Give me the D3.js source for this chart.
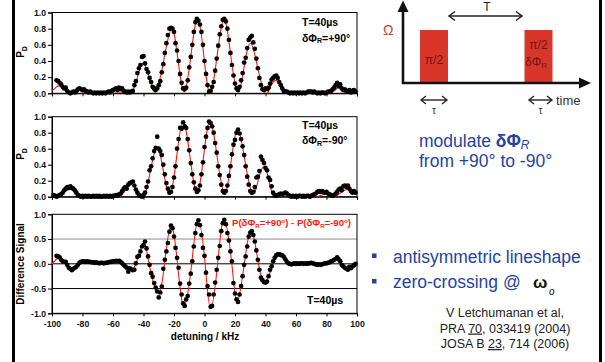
<!DOCTYPE html>
<html><head><meta charset="utf-8">
<script src="https://cdn.jsdelivr.net/npm/d3@7"></script>
<style>
body{margin:0;background:#fff}
svg{display:block}
text{font-family:"Liberation Sans",Arial,Helvetica,sans-serif}
</style>
</head><body>
<svg id="c" width="605" height="362"></svg>
<script>
// ---------- DATA ----------
const detuning = [
-99,-98,-97,-96,-95,-94,-93,-92,-91,-90,-89,-88,-87,-86,-85,-84,-83,-82,-81,-80,
-79,-78,-77,-76,-75,-74,-73,-72,-71,-70,-69,-68,-67,-66,-65,-64,-63,-62,-61,-60,
-59,-58,-57,-56,-55,-54,-53,-52,-51,-50,-49,-48,-47,-46,-45,-44,-43,-42,-41,-40,
-39,-38,-37,-36,-35,-34,-33,-32,-31,-30,-29,-28,-27,-26,-25,-24,-23,-22,-21,-20,
-19,-18,-17,-16,-15,-14,-13,-12,-11,-10,-9,-8,-7,-6,-5,-4,-3,-2,-1,0,
1,2,3,4,5,6,7,8,9,10,11,12,13,14,15,16,17,18,19,20,
21,22,23,24,25,26,27,28,29,30,31,32,33,34,35,36,37,38,39,40,
41,42,43,44,45,46,47,48,49,50,51,52,53,54,55,56,57,58,59,60,
61,62,63,64,65,66,67,68,69,70,71,72,73,74,75,76,77,78,79,80,
81,82,83,84,85,86,87,88,89,90,91,92,93,94,95,96,97,98,99];

// P_D, dPhi_R = +90 deg
const pPlus = [
null,null,0.16,0.15,0.13,0.11,0.08,0.06,0.07,0.03,
0.01,0.00,0.01,0.02,0.01,0.03,0.05,0.06,0.05,0.04,
0.05,0.03,0.02,0.01,0.02,0.01,0.00,0.01,0.00,0.01,
0.00,0.01,0.00,0.01,0.00,0.01,0.02,0.01,0.03,0.04,
0.05,0.06,0.04,0.07,0.05,0.06,0.03,0.02,0.01,0.02,
0.01,0.02,0.03,0.10,0.15,0.25,0.31,0.35,0.45,0.46,
0.37,0.30,0.26,0.19,0.14,0.08,0.06,0.04,0.06,0.10,
0.15,0.26,0.36,0.50,0.62,0.72,0.80,0.81,0.80,0.76,
0.62,0.53,0.40,0.24,0.13,0.06,0.05,0.07,0.16,0.32,
0.45,0.60,0.76,0.88,0.92,0.90,0.85,0.76,0.60,0.40,
0.24,0.10,0.02,0.03,0.08,0.14,0.28,0.43,0.59,0.73,
0.83,0.91,0.92,0.89,0.80,0.66,0.50,0.35,0.22,0.12,
0.06,0.04,0.08,0.16,0.25,0.38,0.44,0.56,0.66,0.69,
0.71,0.63,0.55,0.43,0.31,0.19,0.10,0.05,0.04,0.06,
0.05,0.07,0.12,0.17,0.19,0.21,0.22,0.19,0.14,0.10,
0.06,0.03,0.02,0.02,0.01,0.00,0.01,0.00,0.01,0.00,
0.01,0.00,0.01,0.00,0.01,0.00,0.01,0.02,0.02,0.02,
0.01,0.02,0.01,0.00,0.01,0.00,0.01,0.01,0.00,0.01,
0.02,0.02,0.03,0.05,0.07,0.10,0.13,0.09,0.11,0.06,
0.04,0.05,0.03,0.02,0.04,0.01,0.03,0.04,0.02];

// P_D, dPhi_R = -90 deg
const pMinus = [
0.02,0.01,0.00,0.01,0.02,0.03,0.05,0.08,0.10,0.12,
0.11,0.13,0.11,0.10,0.08,0.05,0.02,0.01,0.00,0.01,
0.00,0.01,0.00,0.01,0.00,0.00,0.01,0.00,0.01,0.00,
0.01,0.00,0.00,0.01,0.00,0.01,0.00,0.01,0.00,0.01,
0.01,0.02,0.01,0.03,0.04,0.07,0.10,0.12,0.10,0.15,
0.17,0.18,0.19,0.14,0.09,0.05,0.02,0.01,0.00,0.02,
0.05,0.12,0.19,0.33,0.38,0.48,0.57,0.61,0.75,0.60,
0.57,0.52,0.40,0.28,0.17,0.10,0.05,0.06,0.12,0.24,
0.38,0.60,0.72,0.86,0.85,0.93,0.88,0.86,0.72,0.58,
0.42,0.28,0.18,0.10,0.06,0.08,0.14,0.28,0.43,0.62,
0.75,0.86,0.94,0.92,0.88,0.80,0.67,0.55,0.38,0.27,
0.15,0.07,0.05,0.07,0.14,0.26,0.38,0.53,0.65,0.71,
0.80,0.84,0.79,0.72,0.63,0.52,0.38,0.25,0.15,0.07,
0.05,0.06,0.12,0.24,0.25,0.32,0.50,0.46,0.42,0.36,
0.33,0.24,0.21,0.13,0.05,0.02,0.01,0.02,0.03,0.04,
0.03,0.04,0.05,0.04,0.02,0.01,0.00,0.01,0.00,0.01,
0.00,0.01,0.01,0.00,0.01,0.00,0.01,0.01,0.00,0.01,
0.02,0.03,0.04,0.06,0.07,0.06,0.07,0.06,0.05,0.06,
0.04,0.03,0.02,0.01,0.02,0.04,0.06,0.09,0.10,0.08,
0.13,0.14,0.12,0.14,0.10,0.07,0.05,0.07,0.05];

// Difference signal
const diffSig = [
null,null,0.16,0.15,0.13,0.08,0.05,0.04,0.04,-0.02,
-0.08,-0.10,-0.13,-0.10,-0.08,-0.06,-0.02,0.02,0.04,0.05,
0.05,0.04,0.05,0.04,0.04,0.03,0.03,0.02,0.03,0.02,
0.01,0.02,0.02,0.01,0.02,0.02,0.03,0.04,0.04,0.05,
0.05,0.06,0.05,0.06,0.04,0.01,-0.02,-0.05,-0.08,-0.16,
-0.09,-0.11,-0.13,-0.12,0.01,0.14,0.16,0.25,0.35,0.38,
0.45,0.31,0.15,-0.02,-0.19,-0.26,-0.39,-0.48,-0.56,-0.68,
-0.58,-0.46,-0.10,0.08,0.25,0.42,0.65,0.77,0.72,0.55,
0.32,0.12,-0.08,-0.40,-0.62,-0.80,-0.85,-0.72,-0.65,-0.40,
-0.20,0.05,0.35,0.62,0.80,0.88,0.78,0.58,0.32,0.16,
-0.18,-0.45,-0.62,-0.87,-0.85,-0.62,-0.38,-0.12,0.12,0.36,
0.66,0.82,0.89,0.80,0.62,0.47,0.25,0.05,-0.39,-0.60,
-0.72,-0.77,-0.62,-0.45,-0.25,-0.02,0.15,0.35,0.55,0.63,
0.66,0.58,0.45,0.27,0.08,-0.12,-0.28,-0.33,-0.37,-0.38,
-0.36,-0.25,-0.12,-0.05,0.05,0.12,0.17,0.19,0.19,0.18,
0.17,0.14,0.09,0.04,0.01,0.00,-0.01,0.00,0.01,0.00,
0.01,0.00,0.01,0.01,0.00,0.01,0.00,0.01,0.01,0.02,
0.01,0.00,-0.01,-0.02,-0.01,-0.02,-0.01,0.00,0.01,0.01,
0.02,0.03,0.05,0.06,0.08,0.10,0.13,0.09,0.05,-0.02,
-0.05,-0.08,-0.10,-0.12,-0.06,-0.09,-0.05,-0.03,0.00];

// fitted curves (kHz, value)
const fitPlus = [[-100,0.03],[-97,0.08],[-95,0.09],[-92,0.05],[-89,0.0],[-80,0.0],[-70,0.0],[-60,0.0],[-52,0.0],[-48,0.0],
[-44.2,0.185],[-40.4,0.37],[-36.2,0.195],[-31.9,0.02],[-26.7,0.41],[-21.5,0.80],[-17.35,0.41],[-13.2,0.02],
[-8.85,0.475],[-4.5,0.93],[-0.45,0.465],[3.6,0.0],[8.2,0.455],[12.8,0.91],[17.25,0.465],[21.7,0.02],
[25.95,0.32],[30.2,0.62],[35,0.31],[39.8,0.0],[43.3,0.08],[46.8,0.16],[49.9,0.08],[53,0.0],[60,0.0],[70,0.0],
[79,0.0],[82,0.0],[85,0.03],[88,0.07],[91,0.03],[94,0.0],[100,0.0]];
const fitMinus = [[-100,0.04],[-97,0.0],[-92,0.05],[-87.4,0.10],[-83,0.0],[-75,0.0],[-65,0.0],[-56,0.0],
[-52.2,0.075],[-48.5,0.15],[-44.2,0.075],[-40,0.0],[-35.65,0.305],[-31.3,0.61],[-26.95,0.32],[-22.6,0.03],
[-18.35,0.485],[-14.1,0.94],[-9.5,0.495],[-4.9,0.05],[-0.65,0.495],[3.6,0.94],[8.35,0.49],[13.1,0.04],
[17.45,0.44],[21.8,0.84],[26.6,0.44],[31.4,0.04],[35.2,0.205],[39.0,0.37],[42.5,0.185],[46,0.0],[55,0.0],
[65,0.0],[74,0.0],[79,0.03],[84,0.0],[88,0.03],[93,0.09],[97,0.07],[100,0.05]];
const fitDiff = [[-100,0.0],[-96,0.11],[-92,0.04],[-88,-0.10],[-84,-0.05],[-80,0.03],[-70,0.03],[-60,0.04],
[-56,0.04],[-52,-0.02],[-47,-0.10],[-43.25,0.16],[-39.5,0.42],[-36.3,0.0],[-30.5,-0.58],[-26.2,0.0],
[-22,0.77],[-17.7,0.0],[-13.5,-0.85],[-8.4,0.0],[-4.2,0.89],[0.4,0.0],[4.0,-0.90],[8.6,0.0],[12.8,0.89],
[17.9,0.0],[21.5,-0.77],[26.1,0.0],[30.8,0.67],[35.4,0.0],[39.5,-0.37],[44,-0.09],[48.5,0.19],[52.3,0.10],
[56,0.0],[65,0.0],[75,0.0],[81,0.02],[87,0.10],[93,-0.10],[100,-0.02]];

const xTicks = [-100,-80,-60,-40,-20,0,20,40,60,80,100];
const yTicksP = [0,0.2,0.4,0.6,0.8,1.0];
const yTicksD = [-1,-0.5,0,0.5,1];
const gridD = [0.5,0,-0.5];

// ---------- DRAW ----------
const svg = d3.select('#c');
const FONT = '"Liberation Sans",Arial,Helvetica,sans-serif';
const SERIF = '"Liberation Serif","Times New Roman",serif';
const x = d3.scaleLinear().domain([-100,100]).range([52,357]);

// outer frame lines
svg.append('rect').attr('x',12).attr('y',0).attr('width',3).attr('height',362).attr('fill','#000');
svg.append('rect').attr('x',599).attr('y',0).attr('width',3).attr('height',362).attr('fill','#000');

const panels = [
 {id:'a', vals:pPlus, fit:fitPlus, dom:[0,1], top:12.5, bot:93.3, ticks:yTicksP, grid:[], xlabels:false},
 {id:'b', vals:pMinus, fit:fitMinus, dom:[0,1], top:116.7, bot:196.7, ticks:yTicksP, grid:[], xlabels:false},
 {id:'c', vals:diffSig, fit:fitDiff, dom:[-1,1], top:214.3, bot:313.3, ticks:yTicksD, grid:gridD, xlabels:true}
];

panels.forEach(p => {
  const y = d3.scaleLinear().domain(p.dom).range([p.bot, p.top]);
  const g = svg.append('g');
  const [x0,x1] = x.range();
  svg.append('clipPath').attr('id','clip'+p.id).append('rect')
    .attr('x',x0).attr('y',p.top).attr('width',x1-x0).attr('height',p.bot-p.top);
  g.selectAll('line.grid').data(p.grid).join('line')
    .attr('x1',x0).attr('x2',x1).attr('y1',d=>y(d)).attr('y2',d=>y(d))
    .attr('stroke',d=>d===0.5?'#8c8c8c':'#000').attr('stroke-width',1);
  g.append('rect').attr('x',x0).attr('y',p.top).attr('width',x1-x0).attr('height',p.bot-p.top)
    .attr('fill','none').attr('stroke','#000').attr('stroke-width',1);
  const ya = g.append('g').attr('transform',`translate(${x0},0)`)
    .call(d3.axisLeft(y).tickValues(p.ticks).tickSize(4).tickPadding(2).tickFormat(d=>d.toFixed(1)));
  ya.select('.domain').attr('stroke','#000');
  ya.selectAll('text').attr('font-family',FONT).attr('font-weight','bold').attr('font-size',8.7).attr('fill','#111');
  const xa = g.append('g').attr('transform',`translate(0,${p.bot})`)
    .call(d3.axisBottom(x).tickValues(xTicks).tickSize(3).tickPadding(5).tickFormat(p.xlabels ? (d=>String(d)) : ''));
  xa.select('.domain').attr('stroke','#000');
  xa.selectAll('text').attr('font-family',FONT).attr('font-weight','bold').attr('font-size',8.7).attr('fill','#111');
  const line = d3.line().x(d=>x(d[0])).y(d=>y(d[1])).curve(d3.curveNatural);
  g.append('path').datum(p.fit).attr('d',line).attr('fill','none')
    .attr('stroke','#ff1a0a').attr('stroke-width',1.1).attr('clip-path',`url(#clip${p.id})`);
  const pts = detuning.map((k,i)=>[k,p.vals[i]]).filter(d=>d[1]!==null);
  g.selectAll('circle').data(pts).join('circle')
    .attr('cx',d=>x(d[0])).attr('cy',d=>y(d[1])).attr('r',2.35).attr('fill','#000');
});

// y-axis titles
function pdLabel(cy){
  const t = svg.append('text').attr('transform',`translate(24,${cy}) rotate(-90)`)
    .attr('text-anchor','middle').attr('font-family',FONT).attr('font-weight','bold').attr('font-size',10).attr('fill','#000');
  t.append('tspan').text('P');
  t.append('tspan').attr('font-size',7).attr('dy',2.5).text('D');
}
pdLabel(52); pdLabel(154);
svg.append('text').attr('transform','translate(24,264) rotate(-90)').attr('text-anchor','middle')
  .attr('font-family',FONT).attr('font-weight','bold').attr('font-size',10).text('Difference Signal');
svg.append('text').attr('x',205).attr('y',340).attr('text-anchor','middle')
  .attr('font-family',FONT).attr('font-weight','bold').attr('font-size',10).text('detuning / kHz');

// panel annotations
function tLabel(xp, yp){
  svg.append('text').attr('x',xp).attr('y',yp).attr('font-family',FONT).attr('font-weight','bold')
    .attr('font-size',10.5).text('T=40µs');
}
function phiLabel(xp, yp, sign){
  const t = svg.append('text').attr('x',xp).attr('y',yp).attr('font-family',FONT).attr('font-weight','bold').attr('font-size',10.5);
  t.append('tspan').text('δΦ');
  t.append('tspan').attr('font-size',7).attr('dy',1.5).text('R');
  t.append('tspan').attr('dy',-1.5).text('=' + sign + '90°');
}
tLabel(302,26); phiLabel(302,41.5,'+');
tLabel(302,129); phiLabel(302,144,'-');
tLabel(307,304);
{
  const t = svg.append('text').attr('x',232).attr('y',226).attr('font-family',FONT).attr('font-weight','bold')
    .attr('font-size',9.6).attr('fill','#ff1a0a');
  const part = (sign, lead) => {
    t.append('tspan').text(lead + 'P(δΦ');
    t.append('tspan').attr('font-size',6).attr('dy',1.5).text('R');
    t.append('tspan').attr('dy',-1.5).text('=' + sign + '90');
    t.append('tspan').attr('font-size',6).attr('dy',-3.5).text('o');
    t.append('tspan').attr('dy',3.5).text(')');
  };
  part('+','');
  part('-',' - ');
}

// ---------- pulse diagram ----------
const red = '#d9362b';
const pd = svg.append('g');
pd.append('rect').attr('x',420).attr('y',30).attr('width',28).attr('height',53).attr('fill',red);
pd.append('rect').attr('x',524.5).attr('y',30).attr('width',28).attr('height',53).attr('fill',red);
pd.append('line').attr('x1',403).attr('y1',84).attr('x2',403).attr('y2',8).attr('stroke','#111').attr('stroke-width',2.6);
pd.append('path').attr('d','M397.5,12 L403,0.5 L408.5,12 Z').attr('fill','#111');
pd.append('line').attr('x1',402).attr('y1',83).attr('x2',582).attr('y2',83).attr('stroke','#111').attr('stroke-width',2.6);
pd.append('path').attr('d','M579,77.5 L591,83 L579,88.5 Z').attr('fill','#111');
pd.append('line').attr('x1',449).attr('y1',16).attr('x2',522).attr('y2',16).attr('stroke','#222').attr('stroke-width',1.5);
pd.append('path').attr('d','M455,11.5 L449,16 L455,20.5 M516,11.5 L522,16 L516,20.5').attr('fill','none').attr('stroke','#222').attr('stroke-width',1.5);
pd.append('text').attr('x',487).attr('y',11).attr('text-anchor','middle').attr('font-family',FONT).attr('font-size',12).attr('fill','#222').text('T');
[[421,447],[529,552]].forEach(([a,b]) => {
  pd.append('line').attr('x1',a).attr('y1',100).attr('x2',b).attr('y2',100).attr('stroke','#222').attr('stroke-width',1.4);
  pd.append('path').attr('d',`M${a+5},96 L${a},100 L${a+5},104 M${b-5},96 L${b},100 L${b-5},104`).attr('fill','none').attr('stroke','#222').attr('stroke-width',1.4);
  pd.append('text').attr('x',(a+b)/2).attr('y',114).attr('text-anchor','middle').attr('font-family',SERIF).attr('font-size',10).attr('fill','#333').text('τ');
});
pd.append('text').attr('x',556).attr('y',104.5).attr('font-family',FONT).attr('font-size',13).attr('fill','#333').text('time');
pd.append('text').attr('x',383).attr('y',35).attr('font-family',SERIF).attr('font-size',14).attr('fill','#c8402f').text('Ω');
pd.append('text').attr('x',434).attr('y',64).attr('text-anchor','middle').attr('font-family',SERIF).attr('font-size',12).attr('fill','#6e160f').text('π/2');
pd.append('text').attr('x',538.5).attr('y',49).attr('text-anchor','middle').attr('font-family',SERIF).attr('font-size',12).attr('fill','#6e160f').text('π/2');
{
  const t = pd.append('text').attr('x',536).attr('y',66).attr('text-anchor','middle').attr('font-family',SERIF).attr('font-size',12).attr('fill','#6e160f');
  t.append('tspan').text('δΦ');
  t.append('tspan').attr('font-size',8).attr('dy',2).text('R');
}

// ---------- right-hand texts ----------
const blue = '#2343a3';
{
  const t = svg.append('text').attr('x',419).attr('y',147).attr('font-family',FONT).attr('font-size',17.5).attr('fill',blue);
  t.append('tspan').text('modulate ');
  t.append('tspan').attr('font-weight','bold').text('δΦ');
  t.append('tspan').attr('font-style','italic').attr('font-size',12).attr('dy',2).text('R');
  svg.append('text').attr('x',419).attr('y',167).attr('font-family',FONT).attr('font-size',17.5).attr('fill',blue).text('from +90° to -90°');
}
svg.append('rect').attr('x',372).attr('y',253.5).attr('width',4.5).attr('height',4.5).attr('fill',blue);
svg.append('rect').attr('x',372).attr('y',279).attr('width',4.5).attr('height',4.5).attr('fill',blue);
svg.append('text').attr('x',393).attr('y',262.5).attr('font-family',FONT).attr('font-size',17.5).attr('fill',blue).text('antisymmetric lineshape');
svg.append('text').attr('x',393).attr('y',288).attr('font-family',FONT).attr('font-size',17.5).attr('fill',blue).text('zero-crossing @');
svg.append('text').attr('x',533).attr('y',288).attr('font-family',SERIF).attr('font-weight','bold').attr('font-size',17).attr('fill','#111').text('ω');
svg.append('text').attr('x',549).attr('y',295).attr('font-family',SERIF).attr('font-style','italic').attr('font-size',10).attr('fill','#111').text('o');

const cite = [["V Letchumanan et al,"],["PRA ","70",", 033419 (2004)"],["JOSA B ","23",", 714 (2006)"]];
cite.forEach((parts,i) => {
  const t = svg.append('text').attr('x',505).attr('y',317 + i*15.5).attr('text-anchor','middle')
    .attr('font-family',FONT).attr('font-size',12.5).attr('fill','#222');
  parts.forEach((s,j) => {
    const ts = t.append('tspan').text(s);
    if (j===1) ts.attr('text-decoration','underline');
  });
});
</script>
</body></html>
